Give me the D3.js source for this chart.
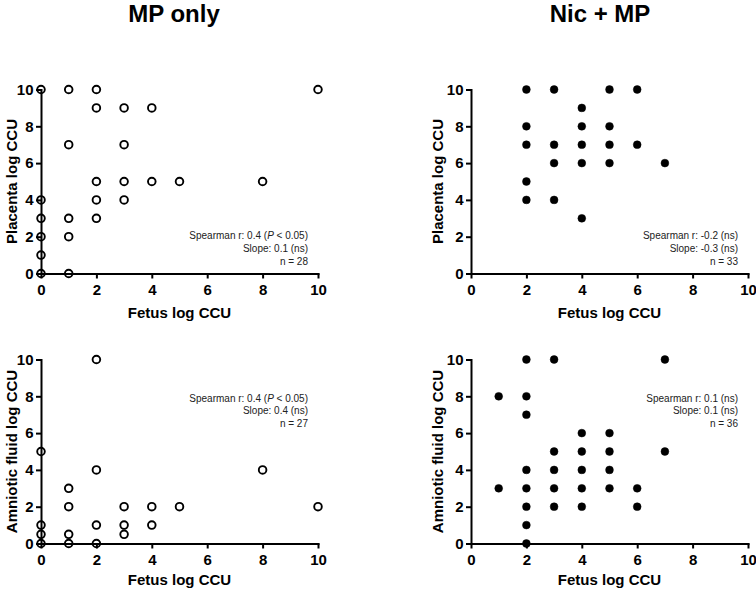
<!DOCTYPE html>
<html>
<head>
<meta charset="utf-8">
<script src="https://cdn.jsdelivr.net/npm/d3@7"></script>
<style>
  html, body { margin: 0; padding: 0; background: #fff; }
  svg { display: block; font-family: Arial, "Liberation Sans", Helvetica, sans-serif; }
</style>
</head>
<body>
<svg id="chart" width="756" height="590"></svg>
<script>
// ---- Data ----
const groupTitles = ["MP only", "Nic + MP"];
const yTitles = ["Placenta log CCU", "Amniotic fluid log CCU"];
const xTitle = "Fetus log CCU";
const tickValues = [0, 2, 4, 6, 8, 10];

// MP only – placenta vs fetus
const mpPlacentaX = [0, 1, 2, 10, 2, 3, 4, 1, 3, 2, 3, 4, 5, 8, 0, 2, 3, 0, 1, 2, 0, 1, 0, 0, 1];
const mpPlacentaY = [10, 10, 10, 10, 9, 9, 9, 7, 7, 5, 5, 5, 5, 5, 4, 4, 4, 3, 3, 3, 2, 2, 1, 0, 0];
// Nic + MP – placenta vs fetus
const nicPlacentaX = [2, 3, 5, 6, 4, 2, 4, 5, 2, 3, 4, 5, 6, 3, 4, 5, 7, 2, 2, 3, 4];
const nicPlacentaY = [10, 10, 10, 10, 9, 8, 8, 8, 7, 7, 7, 7, 7, 6, 6, 6, 6, 5, 4, 4, 3];
// MP only – amniotic fluid vs fetus
const mpAmnioticX = [2, 0, 2, 8, 1, 1, 3, 4, 5, 10, 0, 2, 3, 4, 0, 1, 3, 0, 1, 2];
const mpAmnioticY = [10, 5, 4, 4, 3, 2, 2, 2, 2, 2, 1, 1, 1, 1, 0.5, 0.5, 0.5, 0, 0, 0];
// Nic + MP – amniotic fluid vs fetus
const nicAmnioticX = [2, 3, 7, 1, 2, 2, 4, 5, 3, 4, 5, 7, 2, 3, 4, 5, 1, 2, 3, 4, 5, 6, 2, 3, 4, 6, 2, 2];
const nicAmnioticY = [10, 10, 10, 8, 8, 7, 6, 6, 5, 5, 5, 5, 4, 4, 4, 4, 3, 3, 3, 3, 3, 3, 2, 2, 2, 2, 1, 0];

const statsMpPlacenta = [["Spearman r: 0.4 (", "P", " < 0.05)"], ["Slope: 0.1 (ns)"], ["n = 28"]];
const statsNicPlacenta = [["Spearman r: -0.2 (ns)"], ["Slope: -0.3 (ns)"], ["n = 33"]];
const statsMpAmniotic = [["Spearman r: 0.4 (", "P", " < 0.05)"], ["Slope: 0.4 (ns)"], ["n = 27"]];
const statsNicAmniotic = [["Spearman r: 0.1 (ns)"], ["Slope: 0.1 (ns)"], ["n = 36"]];

// ---- Layout ----
const svg = d3.select("#chart");
const colX = [[41, 318], [471, 748]];
const rowY = [[273.5, 89.5], [543.5, 359.5]];
const titleX = [174, 600];
const yTitleX = [17, 443];
const xTitleOffset = [44, 41];

const panels = [
  { col: 0, row: 0, xs: mpPlacentaX, ys: mpPlacentaY, open: true, stats: statsMpPlacenta, statsTop: false },
  { col: 1, row: 0, xs: nicPlacentaX, ys: nicPlacentaY, open: false, stats: statsNicPlacenta, statsTop: false },
  { col: 0, row: 1, xs: mpAmnioticX, ys: mpAmnioticY, open: true, stats: statsMpAmniotic, statsTop: true },
  { col: 1, row: 1, xs: nicAmnioticX, ys: nicAmnioticY, open: false, stats: statsNicAmniotic, statsTop: true }
];

// group titles
groupTitles.forEach((t, i) => {
  svg.append("text")
    .attr("x", titleX[i]).attr("y", 22)
    .attr("text-anchor", "middle")
    .attr("font-size", 24).attr("font-weight", "bold")
    .text(t);
});

panels.forEach(p => {
  const x = d3.scaleLinear().domain([0, 10]).range(colX[p.col]);
  const y = d3.scaleLinear().domain([0, 10]).range(rowY[p.row]);
  const g = svg.append("g");

  // axes
  const xAxis = g.append("g")
    .attr("transform", `translate(0,${y(0)})`)
    .call(d3.axisBottom(x).tickValues(tickValues).tickSize(5).tickSizeOuter(0).tickPadding(6));
  const yAxis = g.append("g")
    .attr("transform", `translate(${x(0)},0)`)
    .call(d3.axisLeft(y).tickValues(tickValues).tickSize(5).tickSizeOuter(0).tickPadding(2.5));
  [xAxis, yAxis].forEach(a => {
    a.selectAll("path.domain").attr("stroke", "#000").attr("stroke-width", 2).attr("stroke-linecap", "square");
    a.selectAll(".tick line").attr("stroke", "#000").attr("stroke-width", 2);
    a.selectAll(".tick text").attr("fill", "#000").attr("font-size", 15).attr("font-weight", "bold")
      .attr("font-family", "Arial, 'Liberation Sans', Helvetica, sans-serif");
  });

  // axis titles
  g.append("text")
    .attr("x", (x(0) + x(10)) / 2).attr("y", y(0) + xTitleOffset[p.row])
    .attr("text-anchor", "middle").attr("font-size", 15).attr("font-weight", "bold")
    .text(xTitle);
  g.append("text")
    .attr("transform", `translate(${yTitleX[p.col]},${(y(0) + y(10)) / 2}) rotate(-90)`)
    .attr("text-anchor", "middle").attr("font-size", 15).attr("font-weight", "bold")
    .text(yTitles[p.row]);

  // points
  const pts = p.xs.map((v, i) => [v, p.ys[i]]);
  g.append("g").selectAll("circle").data(pts).join("circle")
    .attr("cx", d => x(d[0])).attr("cy", d => y(d[1]))
    .attr("r", p.open ? 3.8 : 3.9)
    .attr("fill", p.open ? "none" : "#000")
    .attr("stroke", "#000")
    .attr("stroke-width", p.open ? 1.9 : 0.5);

  // stats annotation
  const baseY = p.statsTop ? y(10) + 42 : y(0) - 34.5;
  const ann = g.append("text")
    .attr("text-anchor", "end").attr("font-size", 10).attr("fill", "#222");
  p.stats.forEach((parts, i) => {
    const line = ann.append("tspan").attr("x", x(10) - 10).attr("y", baseY + i * 12.8);
    parts.forEach((s, j) => {
      const t = j === 0 ? line : ann.append("tspan");
      t.text(s);
      if (s === "P") t.attr("font-style", "italic");
    });
  });
});
</script>
</body>
</html>
